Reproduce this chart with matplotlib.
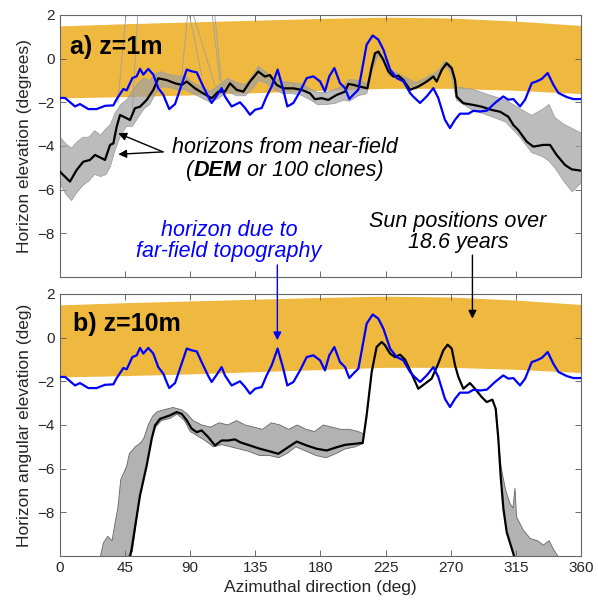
import numpy as np
import matplotlib
matplotlib.use("Agg")
import matplotlib.pyplot as plt
from matplotlib.offsetbox import TextArea, HPacker, AnnotationBbox

plt.rcParams['font.family'] = ['Liberation Sans', 'DejaVu Sans']

# Sun band (upper / lower edge of sun paths over 18.6 years)
sun_az = [0, 45, 90, 135, 180, 225, 270, 315, 360]
sun_top = [1.50, 1.60, 1.68, 1.76, 1.84, 1.90, 1.86, 1.72, 1.52]
sun_bot = [-1.80, -1.74, -1.66, -1.56, -1.46, -1.36, -1.36, -1.45, -1.60]

# Far-field horizon (blue, same in both panels)
far_az = [0, 3.5, 10.4, 13.8, 19.6, 25.3, 31.1, 36.9, 39.2, 43.8, 46.1, 50, 53, 55.3, 57.6, 61, 64.5, 67.9,
          71.4, 73.7, 75.5, 79.5, 82.9, 87.6, 91, 94.5, 97.9, 102.5, 104.8, 108.3, 111.7, 114, 118.6, 124.4,
          127.9, 131.3, 134.8, 139.4, 142.8, 146.3, 150.4, 154.3, 157.1, 161.3, 165.9, 170.5, 175.1, 179.7,
          183.1, 186.1, 189.6, 193.5, 197, 199.9, 202.7, 206.2, 209.6, 211.9, 216.1, 220, 223.5, 228.1, 232.7,
          237.3, 241.9, 244, 248.8, 253.4, 258, 261.4, 266, 269.5, 273, 276.4, 282.2, 285.6, 290.3, 295, 300.6,
          306.3, 309.8, 313.3, 317.9, 321.4, 326, 329.4, 332.9, 337, 340.9, 344.4, 350.2, 354.7, 360]
far_el = [-1.80, -1.80, -2.19, -2.08, -2.31, -2.31, -2.16, -2.14, -1.85, -1.39, -1.45, -0.89, -0.81, -0.47,
          -0.73, -0.47, -0.73, -1.35, -1.65, -2.03, -2.31, -2.08, -1.42, -0.50, -0.58, -0.63, -1.12, -1.76,
          -2.03, -1.70, -1.35, -1.73, -2.19, -2.00, -2.26, -2.57, -2.34, -2.26, -1.73, -1.27, -0.50, -1.42,
          -2.19, -2.03, -1.50, -0.89, -0.81, -1.04, -1.50, -0.81, -0.43, -1.12, -1.35, -1.85, -1.65, -1.42,
          -0.20, 0.64, 1.06, 0.87, 0.41, -0.50, -0.89, -1.04, -1.57, -1.73, -2.03, -1.73, -1.35, -1.80, -2.80,
          -3.18, -2.80, -2.52, -2.52, -2.39, -2.42, -2.38, -2.03, -1.73, -1.88, -1.85, -2.19, -1.88, -1.12,
          -1.04, -0.93, -0.66, -1.19, -1.57, -1.76, -1.85, -1.85]

# Near-field DEM horizon, z = 1 m
dem1_az = [0, 6.9, 11.5, 16.1, 20.7, 24.2, 28.8, 31.1, 34.6, 36.9, 39.2, 41.5, 46.1, 48.4, 51.8, 55.3, 59.9,
           64.5, 67.9, 73.7, 79.5, 84.1, 87.6, 93.3, 99, 104.8, 109.4, 114, 117.5, 122.1, 126.7, 131.3, 137,
           141.6, 145.1, 149.7, 154.3, 161.2, 167, 172.8, 176.2, 180.8, 185.4, 191.2, 197, 199.3, 202.7, 207.3,
           212.4, 215.4, 217.7, 220, 223.5, 226.9, 230.4, 233.8, 237.3, 241.9, 247.6, 253.4, 258, 260.3, 263.8,
           267.2, 270.7, 273, 274.1, 278.7, 285.6, 291.4, 298.3, 304.1, 309.8, 313.3, 316.7, 322.5, 327.1, 334,
           338.6, 343.2, 349, 353.6, 360]
dem1_el = [-5.18, -5.63, -5.10, -4.72, -4.64, -4.41, -4.56, -4.64, -3.95, -3.88, -3.11, -2.58, -2.73, -2.81,
           -2.27, -2.20, -1.89, -1.43, -0.90, -0.98, -1.13, -1.20, -1.05, -1.36, -1.59, -1.81, -1.51, -1.51,
           -1.13, -1.43, -1.51, -1.05, -0.59, -0.82, -0.75, -1.20, -1.36, -1.36, -1.43, -1.59, -1.86, -1.81,
           -1.89, -1.66, -1.51, -1.16, -1.20, -1.28, -1.36, -0.37, 0.25, 0.32, -0.06, -0.59, -0.82, -0.78, -0.98,
           -1.43, -1.28, -1.05, -0.82, -1.05, -0.52, -0.21, -0.44, -0.98, -1.74, -2.04, -2.12, -2.20, -2.35,
           -2.43, -2.66, -3.04, -3.27, -3.80, -4.03, -3.95, -3.95, -4.41, -4.87, -5.07, -5.13]

# Spread of the 100 clones, z = 1 m
clone1_az = [0, 4, 8, 12, 16, 20, 24, 28, 32, 35, 38, 42, 46, 50, 54, 58, 62, 66, 70, 74, 80, 86, 92, 98, 104,
             110, 116, 122, 128, 134, 137, 142, 148, 154, 160, 166, 172, 178, 184, 190, 196, 200, 206, 212, 216,
             220, 224, 228, 234, 240, 246, 252, 258, 262, 266, 270, 274, 285, 296, 308, 318, 326, 334, 338, 342,
             348, 354, 360]
clone1_hi = [-3.6, -3.9, -4.1, -3.8, -3.6, -3.6, -3.3, -3.5, -3.2, -3.0, -2.5, -2.1, -1.9, -1.5, -1.1, -0.9,
             -1.0, -0.7, -0.6, -0.7, -0.8, -0.8, -1.1, -1.3, -1.5, -1.2, -0.9, -1.1, -1.2, -0.7, -0.35, -0.6,
             -0.9, -1.05, -1.1, -1.15, -1.35, -1.55, -1.55, -1.4, -1.25, -0.95, -1.0, -1.15, -0.3, 0.4, 0.0,
             -0.5, -0.7, -0.9, -1.1, -0.9, -0.7, -0.5, -0.1, -0.3, -1.3, -1.4, -1.65, -1.9, -2.3, -2.6, -2.3,
             -2.1, -2.7, -3.0, -3.2, -3.4]
clone1_lo = [-5.7, -6.2, -6.5, -6.1, -5.8, -5.6, -5.3, -5.4, -5.3, -4.9, -4.2, -3.5, -3.1, -3.1, -2.7, -2.3,
             -2.1, -1.6, -1.3, -1.3, -1.4, -1.4, -1.6, -1.8, -2.0, -1.8, -1.5, -1.7, -1.7, -1.3, -1.0, -1.1,
             -1.4, -1.6, -1.6, -1.65, -1.85, -2.1, -2.1, -2.05, -1.9, -1.95, -1.7, -1.6, -0.5, 0.2, -0.2, -0.8,
             -0.9, -1.2, -1.4, -1.15, -0.9, -0.7, -0.3, -0.6, -1.9, -2.35, -2.6, -2.9, -3.6, -4.3, -4.5, -4.7,
             -5.0, -5.6, -6.1, -5.7]

# A few clone horizons that leave the top of panel a
spikes_az = [[40, 46], [50, 54], [84, 88.6, 98], [90.8, 107], [104.7, 110.5], [106.5, 112]]
spikes_el = [[-2.0, 2.3], [-2.4, 2.3], [-0.9, 2.3, -0.8], [2.3, -1.2], [2.3, -1.0], [2.3, -1.4]]

# Near-field DEM horizon, z = 10 m
dem10_az = [47, 49.5, 55.3, 59.9, 63.4, 65.7, 69.1, 72.6, 76, 80.6, 84.1, 87.6, 91, 94.5, 97.9, 102.5, 107.1,
            111.7, 116.3, 120.9, 124.4, 131.3, 138.2, 145.1, 150.9, 156.7, 163.6, 170.5, 177.4, 184.3, 191.2,
            197, 203.9, 209.2, 211.9, 215.4, 218.8, 222.3, 224.6, 228.1, 231.5, 235, 238.4, 243, 247.6, 252.2,
            256.8, 261.4, 264.9, 267.9, 270.7, 273, 275.3, 278.7, 283.3, 286.8, 291.4, 294.9, 298.8, 301.1,
            302.9, 304.5, 306.4, 308.7, 313.3, 316]
dem10_el = [-10.5, -9.68, -7.23, -5.86, -4.63, -4.02, -3.72, -3.64, -3.56, -3.41, -3.49, -3.79, -4.17, -4.33,
            -4.25, -4.56, -4.94, -4.71, -4.71, -4.66, -4.79, -4.94, -5.09, -5.21, -5.32, -5.06, -4.76, -4.94,
            -5.09, -5.17, -5.02, -4.91, -4.86, -4.82, -3.56, -1.57, -0.43, -0.20, -0.35, -0.73, -0.89, -0.78,
            -1.00, -1.65, -2.34, -2.11, -1.88, -1.19, -0.58, -0.32, -0.50, -1.27, -1.80, -2.34, -2.08, -2.34,
            -2.72, -2.95, -2.84, -3.26, -4.63, -6.32, -7.84, -8.91, -9.90, -10.5]

# Spread of the clones, z = 10 m (left rise and plateau)
clone10_hi_az = [28, 30, 33, 36, 38, 40, 42, 44, 46, 48, 52, 56, 58, 61, 64, 67, 72, 78, 84, 88, 92, 98, 104,
                 110, 116, 122, 128, 134, 140, 146, 152, 158, 164, 170, 176, 182, 188, 194, 200, 206, 209.5]
clone10_hi = [-10, -9.4, -9.1, -9.3, -8.5, -7.8, -6.5, -6.2, -5.9, -5.3, -5.0, -4.8, -4.6, -4.0, -3.6, -3.4,
              -3.3, -3.2, -3.3, -3.5, -3.8, -4.0, -4.1, -3.9, -4.0, -3.8, -4.0, -4.1, -4.2, -3.9, -4.0, -4.2,
              -4.0, -4.2, -4.3, -4.0, -4.1, -4.2, -4.2, -4.3, -4.4]
clone10_lo_az = [47, 50, 55, 60, 63, 66, 70, 76, 81, 86, 90, 95, 100, 106, 112, 118, 124, 130, 138, 145, 151,
                 157, 163, 170, 177, 184, 191, 197, 204, 209.5]
clone10_lo = [-10, -9.8, -7.3, -5.9, -4.7, -4.1, -3.8, -3.7, -3.5, -3.8, -4.3, -4.5, -4.7, -5.0, -4.9, -5.0,
              -5.1, -5.2, -5.4, -5.4, -5.5, -5.3, -5.0, -5.2, -5.4, -5.5, -5.3, -5.1, -5.0, -4.85]

# Spread of the clones, z = 10 m (right drop)
clone10r_hi_az = [301, 303, 305, 308, 311, 313, 314.4, 315.5, 320, 325, 330, 334, 338, 341, 344]
clone10r_hi = [-3.3, -4.8, -6.0, -7.0, -7.6, -7.8, -6.9, -8.2, -8.8, -9.2, -9.3, -9.5, -9.3, -9.7, -10]
clone10r_lo_az = [301, 302.9, 304.5, 306.4, 308.7, 313.3, 314]
clone10r_lo = [-3.3, -4.63, -6.32, -7.84, -8.91, -9.9, -10]

xticks = [0, 45, 90, 135, 180, 225, 270, 315, 360]
yticks = [-8, -6, -4, -2, 0, 2]

sun_col = '#EFB83E'
clone1_col = '#a0a0a0'
clone10_col = '#666666'

fig = plt.figure(figsize=(5.98, 6.04), dpi=100)
ax1 = fig.add_axes([0.1003, 0.5414, 0.8712, 0.4338])
ax2 = fig.add_axes([0.1003, 0.0795, 0.8712, 0.4338])


def polygon(ax, hi_az, hi, lo_az, lo, col, alpha):
    xs = np.concatenate([hi_az, lo_az[::-1]])
    ys = np.concatenate([hi, lo[::-1]])
    ax.fill(xs, ys, color=col, alpha=alpha, lw=0, zorder=2)
    ax.plot(hi_az, hi, color=col, lw=0.6, zorder=2)
    ax.plot(lo_az, lo, color=col, lw=0.6, zorder=2)


for ax in (ax1, ax2):
    ax.fill_between(sun_az, sun_bot, sun_top, color=sun_col, lw=0, zorder=1)
    ax.set_xlim(0, 360)
    ax.set_ylim(-10, 2)
    ax.set_xticks(xticks)
    ax.set_yticks(yticks)
    ax.tick_params(direction='in', top=True, right=True, length=4, width=0.6,
                   color='#555555', labelsize=11, labelcolor='#262626')
    for s in ax.spines.values():
        s.set_color('#666666')
        s.set_linewidth(0.8)

# panel a
polygon(ax1, np.array(clone1_az), np.array(clone1_hi), np.array(clone1_az), np.array(clone1_lo), clone1_col, 0.7)
for sa, se in zip(spikes_az, spikes_el):
    ax1.plot(sa, se, color=clone1_col, lw=0.6, zorder=2)
ax1.plot(dem1_az, dem1_el, color='k', lw=1.6, zorder=3)
ax1.plot(far_az, far_el, color='#0000FF', lw=1.6, zorder=4)
ax1.set_xticklabels([])
ax1.set_ylabel('Horizon elevation (degrees)', fontsize=12.5, color='#262626')
ax1.text(7, 0.55, 'a) z=1m', fontsize=18, fontweight='bold', va='center', zorder=5)

ax1.text(155.5, -4.09, 'horizons from near-field', fontsize=15.5, style='italic',
         ha='center', va='center', zorder=5)
box = HPacker(children=[TextArea('(', textprops=dict(fontsize=15.5, style='italic')),
                        TextArea('DEM', textprops=dict(fontsize=15.5, style='italic', fontweight='bold')),
                        TextArea(' or 100 clones)', textprops=dict(fontsize=15.5, style='italic'))],
              align='baseline', pad=0, sep=0)
ax1.add_artist(AnnotationBbox(box, (155.5, -5.14), xycoords='data', frameon=False,
                              box_alignment=(0.5, 0.5), zorder=5))
for end in [(40.3, -3.42), (40.3, -4.38)]:
    ax1.annotate('', xy=end, xytext=(71.2, -4.27),
                 arrowprops=dict(arrowstyle='-|>', color='k', lw=1, mutation_scale=12, shrinkA=0, shrinkB=0),
                 zorder=5)

ax1.text(116.8, -7.85, 'horizon due to', fontsize=15.5, style='italic', color='#0000FF',
         ha='center', va='center')
ax1.text(116.8, -8.85, 'far-field topography', fontsize=15.5, style='italic', color='#0000FF',
         ha='center', va='center')
ax1.text(275, -7.48, 'Sun positions over', fontsize=15.5, style='italic', ha='center', va='center')
ax1.text(275, -8.44, '18.6 years', fontsize=15.5, style='italic', ha='center', va='center')

# panel b
polygon(ax2, np.array(clone10_hi_az), np.array(clone10_hi), np.array(clone10_lo_az), np.array(clone10_lo),
        clone10_col, 0.5)
polygon(ax2, np.array(clone10r_hi_az), np.array(clone10r_hi), np.array(clone10r_lo_az), np.array(clone10r_lo),
        clone10_col, 0.5)
ax2.plot(dem10_az, dem10_el, color='k', lw=1.6, zorder=3)
ax2.plot(far_az, far_el, color='#0000FF', lw=1.6, zorder=4)
ax2.set_ylabel('Horizon angular elevation (deg)', fontsize=12.5, color='#262626')
ax2.set_xlabel('Azimuthal direction (deg)', fontsize=12.5, color='#262626')
ax2.text(9, 0.64, 'b) z=10m', fontsize=18, fontweight='bold', va='center', zorder=5)

# arrows crossing from panel a to panel b
ax2.annotate('', xy=(150.2, -0.12), xycoords='data', xytext=(150.2, -9.45), textcoords=ax1.transData,
             arrowprops=dict(arrowstyle='-|>', color='#0000FF', lw=1, mutation_scale=12, shrinkA=0, shrinkB=0),
             annotation_clip=False, zorder=6)
ax2.annotate('', xy=(285, 0.87), xycoords='data', xytext=(285, -9.0), textcoords=ax1.transData,
             arrowprops=dict(arrowstyle='-|>', color='k', lw=1, mutation_scale=12, shrinkA=0, shrinkB=0),
             annotation_clip=False, zorder=6)

fig.savefig('out.png', dpi=100)
